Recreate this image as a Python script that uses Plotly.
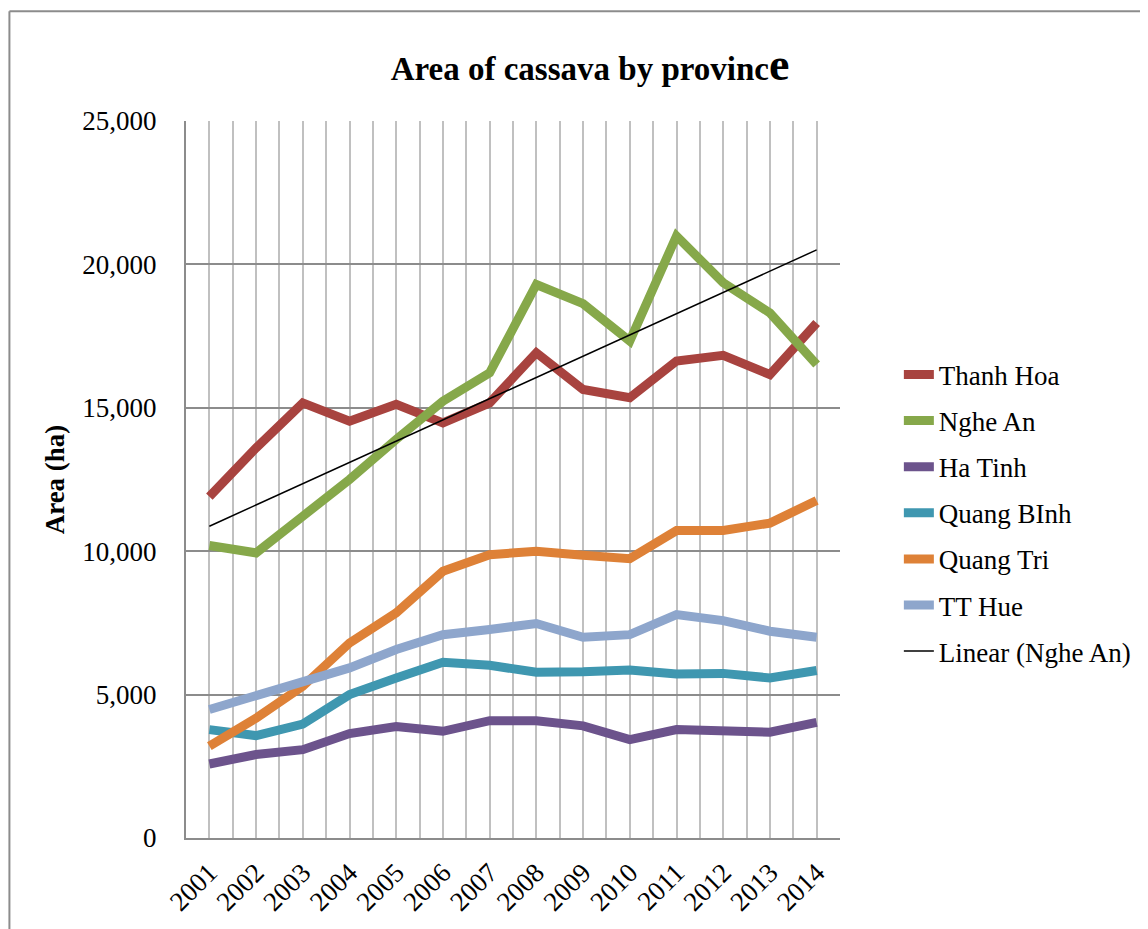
import numpy as np
import plotly.graph_objects as go

years = list(range(2001, 2015))

thanh_hoa = [11900, 13600, 15170, 14530, 15120, 14470, 15170, 16920, 15640, 15350, 16630, 16830, 16160, 17960]
nghe_an = [10200, 9940, 11220, 12500, 13900, 15230, 16220, 19300, 18630, 17330, 20990, 19360, 18310, 16510]
ha_tinh = [2580, 2910, 3080, 3640, 3890, 3720, 4090, 4090, 3910, 3430, 3780, 3770, 3690, 4030]
quang_binh = [3780, 3570, 3970, 5000, 5580, 6130, 6020, 5780, 5800, 5860, 5720, 5740, 5580, 5840]
quang_tri = [3200, 4180, 5290, 6800, 7850, 9300, 9880, 10000, 9860, 9740, 10720, 10720, 10980, 11770]
tt_hue = [4480, 4960, 5460, 5930, 6570, 7090, 7270, 7480, 7000, 7090, 7790, 7580, 7210, 7000]

series = [
    ("Thanh Hoa", thanh_hoa, "#A8433F"),
    ("Nghe An", nghe_an, "#86A84A"),
    ("Ha Tinh", ha_tinh, "#6C538C"),
    ("Quang BInh", quang_binh, "#3F97B0"),
    ("Quang Tri", quang_tri, "#DE8137"),
    ("TT Hue", tt_hue, "#8EA6CC"),
]

FONT = "Liberation Serif"

fig = go.Figure()

for i, (name, vals, color) in enumerate(series):
    fig.add_trace(go.Scatter(
        x=years, y=vals, mode="lines", name=name,
        legendgroup=f"g{i}",
        line=dict(color=color, width=9)
    ))

# linear trend of Nghe An
slope, intercept = np.polyfit(years, nghe_an, 1)
trend = [slope * yr + intercept for yr in years]
fig.add_trace(go.Scatter(
    x=years, y=trend, mode="lines", name="Linear (Nghe An)",
    legendgroup="trend",
    line=dict(color="black", width=1.5)
))

# outer chart border (left and top only visible)
fig.add_shape(type="line", xref="paper", yref="paper",
              x0=-0.27, x1=-0.27, y0=1.153, y1=-0.2,
              line=dict(color="#8c8c8c", width=2))
fig.add_shape(type="line", xref="paper", yref="paper",
              x0=-0.27, x1=1.6, y0=1.153, y1=1.153,
              line=dict(color="#8c8c8c", width=2))

# page body has an 8px margin, so margins are shifted to compensate
fig.update_layout(
    width=1148, height=929,
    margin=dict(l=178, r=316, t=113, b=99),
    paper_bgcolor="white",
    plot_bgcolor="white",
    font=dict(family=FONT, size=27, color="black"),
    title=dict(
        text="<b>Area of cassava by provinc<span style='font-size:46px'>e</span></b>",
        font=dict(family=FONT, size=33, color="black"),
        x=0.507, xanchor="center", xref="container",
        y=0.935, yanchor="middle", yref="container"
    ),
    showlegend=True,
    legend=dict(
        x=1.09, xanchor="left", y=0.68, yanchor="top",
        font=dict(family=FONT, size=27),
        tracegroupgap=8,
        bgcolor="rgba(0,0,0,0)"
    ),
    hovermode="x unified"
)

fig.update_xaxes(
    range=[2000.5, 2014.5],
    tickmode="array", tickvals=years, ticktext=[str(y) for y in years],
    tickangle=-45,
    ticks="outside", ticklen=6, tickcolor="rgba(0,0,0,0)",
    showgrid=True, gridcolor="#c0c0c0", gridwidth=1.5,
    minor=dict(tickmode="linear", tick0=2000.5, dtick=1,
               showgrid=True, gridcolor="#c0c0c0", gridwidth=1.5),
    showline=True, linecolor="#8c8c8c", linewidth=2,
    zeroline=False, mirror=False,
    tickfont=dict(family=FONT, size=27)
)

fig.update_yaxes(
    range=[0, 25000], dtick=5000, tickformat=",",
    ticks="outside", ticklen=22, tickcolor="rgba(0,0,0,0)",
    showgrid=True, gridcolor="#8c8c8c", gridwidth=2,
    showline=True, linecolor="#8c8c8c", linewidth=2,
    zeroline=False,
    title=dict(text="<b>Area (ha)</b>", font=dict(family=FONT, size=27), standoff=10),
    tickfont=dict(family=FONT, size=27)
)

fig.write_html("out.html")
